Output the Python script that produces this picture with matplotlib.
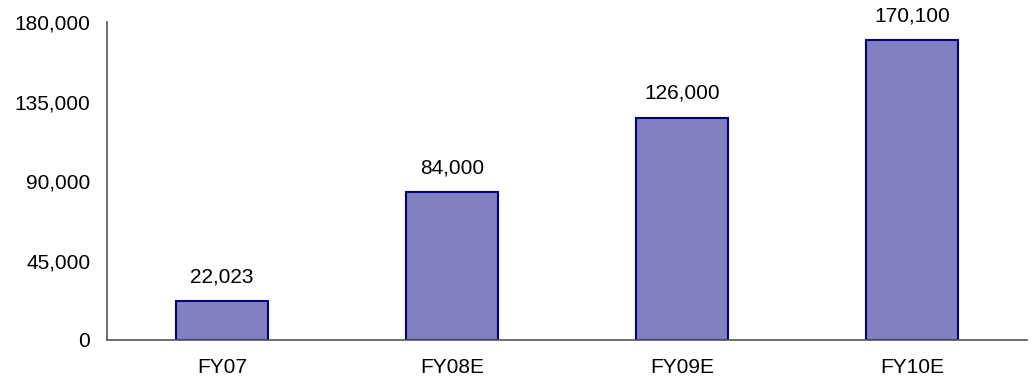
import matplotlib.pyplot as plt
from matplotlib.ticker import FuncFormatter

# Data
categories = ['FY07', 'FY08E', 'FY09E', 'FY10E']
values = [22023, 84000, 126000, 170100]
y_ticks = [0, 45000, 90000, 135000, 180000]

plt.rcParams['font.family'] = ['Liberation Sans', 'DejaVu Sans']

fig = plt.figure(figsize=(10.34, 3.82), dpi=100)
ax = fig.add_axes([0.1035, 0.110, 0.8895, 0.832])

x = range(len(categories))
bars = ax.bar(x, values, width=0.4, color='#8080C0', edgecolor='#000080', linewidth=1.5)

for rect, v in zip(bars, values):
    ax.annotate(f'{v:,}', (rect.get_x() + rect.get_width() / 2, v),
                xytext=(0, 10.5), textcoords='offset points',
                ha='center', va='bottom', fontsize=15)

ax.set_xlim(-0.5, len(categories) - 0.5)
ax.set_ylim(0, 180000)
ax.set_yticks(y_ticks)
ax.yaxis.set_major_formatter(FuncFormatter(lambda v, p: f'{int(v):,}'))
ax.set_xticks(list(x))
ax.set_xticklabels(categories)
ax.tick_params(axis='both', length=0, labelsize=15)
ax.tick_params(axis='y', pad=12)
ax.tick_params(axis='x', pad=13)

for s in ['top', 'right']:
    ax.spines[s].set_visible(False)
for s in ['left', 'bottom']:
    ax.spines[s].set_color('#555555')
    ax.spines[s].set_linewidth(1.2)

fig.savefig('out.png', dpi=100)
